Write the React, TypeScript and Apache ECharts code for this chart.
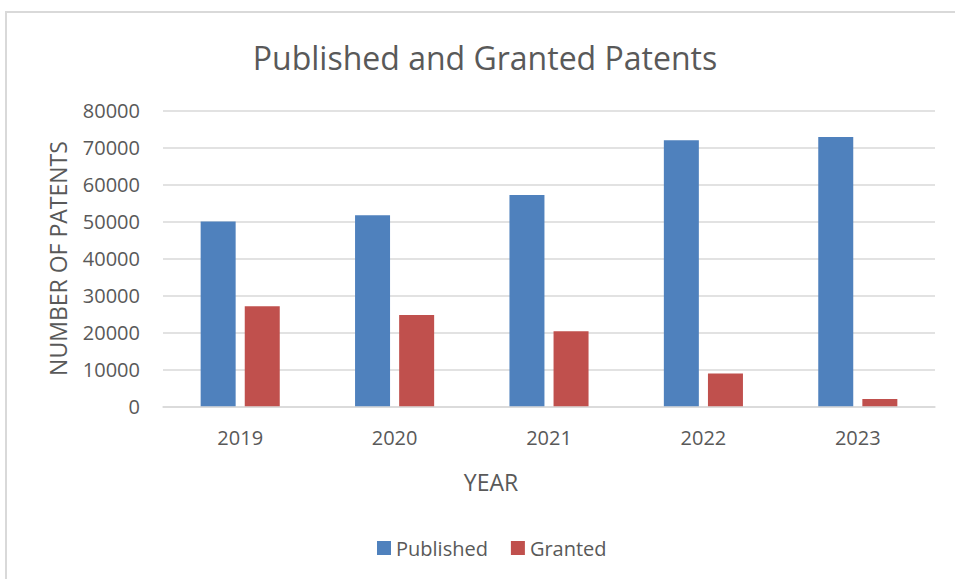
import React, { useEffect, useRef } from "react";
import * as echarts from "echarts";

const years = ["2019", "2020", "2021", "2022", "2023"];
const published = [50000, 51700, 57200, 72000, 72900];
const granted = [27100, 24700, 20300, 8900, 2000];
const seriesNames = ["Published", "Granted"];
const titleText = "Published and Granted Patents";
const yAxisName = "NUMBER OF PATENTS";
const xAxisName = "YEAR";

const FONT = "'Open Sans', 'DejaVu Sans', sans-serif";
const TEXT = "#595959";
const GRID = "#d9d9d9";

export default function App() {
  const ref = useRef<HTMLDivElement>(null);
  useEffect(() => {
    if (!ref.current) return;
    const chart = echarts.init(ref.current, undefined, { renderer: "svg" });
    chart.setOption({
      animation: false,
      textStyle: { fontFamily: FONT },
      graphic: [
        {
          type: "rect",
          shape: { x: 6, y: 12, width: 1000, height: 700 },
          style: { fill: "none", stroke: GRID, lineWidth: 2 },
          silent: true,
        },
        {
          type: "text",
          x: 485,
          y: 57,
          style: {
            text: titleText,
            fontSize: 32,
            fontFamily: FONT,
            fill: TEXT,
            textAlign: "center",
            textVerticalAlign: "middle",
          },
        },
        {
          type: "text",
          x: 491,
          y: 482,
          style: {
            text: xAxisName,
            fontSize: 23,
            fontFamily: FONT,
            fill: TEXT,
            textAlign: "center",
            textVerticalAlign: "middle",
          },
        },
      ],
      legend: {
        left: 372,
        top: 533,
        itemWidth: 14,
        itemHeight: 14,
        itemGap: 23,
        icon: "rect",
        textStyle: { fontSize: 20, color: TEXT, fontFamily: FONT },
        data: seriesNames,
      },
      grid: { left: 163, right: 20, top: 110.7, bottom: 172.7, containLabel: false },
      xAxis: {
        type: "category",
        data: years,
        axisLine: { show: true, lineStyle: { color: GRID, width: 1.5 } },
        axisTick: { show: false },
        axisLabel: { fontSize: 20, color: TEXT, margin: 21, fontFamily: FONT },
      },
      yAxis: {
        type: "value",
        min: 0,
        max: 80000,
        interval: 10000,
        axisLine: { show: false },
        axisTick: { show: false },
        splitLine: { lineStyle: { color: GRID, width: 1.5 } },
        axisLabel: {
          fontSize: 20,
          color: TEXT,
          margin: 23,
          fontFamily: FONT,
          formatter: (v: number) => String(v),
        },
        name: yAxisName,
        nameLocation: "middle",
        nameRotate: 90,
        nameGap: 94,
        nameTextStyle: { fontSize: 23, color: TEXT, fontFamily: FONT },
      },
      series: [
        {
          name: seriesNames[0],
          type: "bar",
          data: published,
          barWidth: 35,
          barGap: "26%",
          itemStyle: { color: "#4f81bd" },
        },
        {
          name: seriesNames[1],
          type: "bar",
          data: granted,
          barWidth: 35,
          itemStyle: { color: "#c0504d" },
        },
      ],
    });
    return () => chart.dispose();
  }, []);
  return (
    <div
      ref={ref}
      style={{ position: "absolute", left: 0, top: 0, width: 955, height: 579, background: "#fff" }}
    />
  );
}
